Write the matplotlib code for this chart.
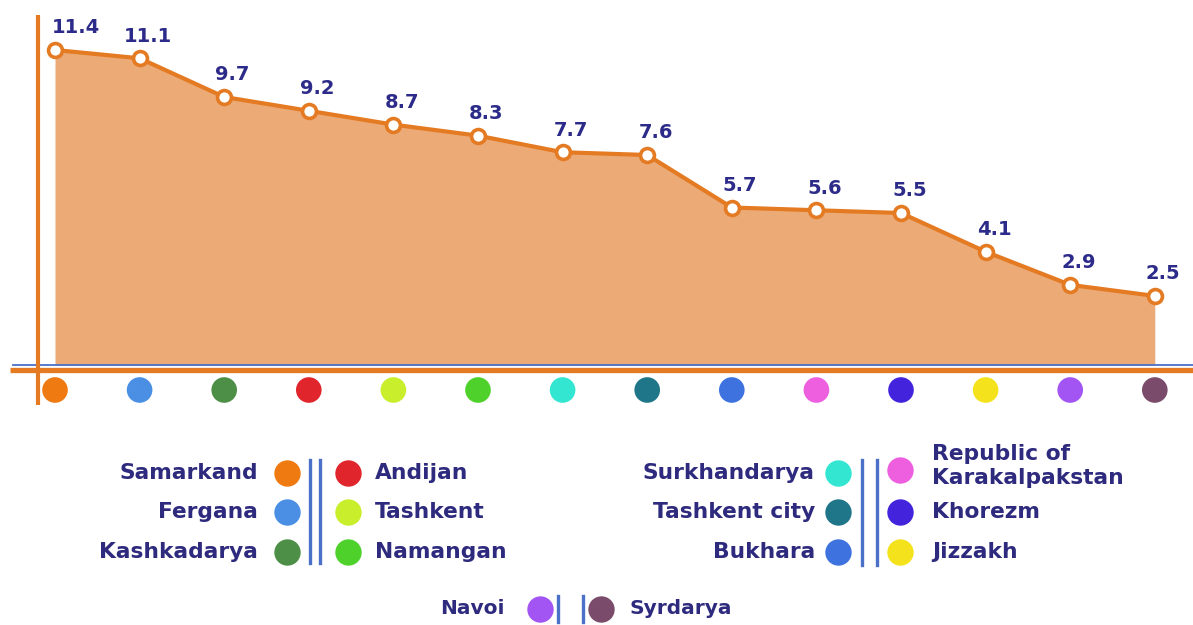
import matplotlib
matplotlib.use("Agg")
import matplotlib.pyplot as plt
from matplotlib.lines import Line2D

plt.rcParams['font.family'] = ['DejaVu Sans']

regions = ["Samarkand", "Fergana", "Kashkadarya", "Andijan", "Tashkent", "Namangan",
           "Surkhandarya", "Tashkent city", "Bukhara", "Republic of\nKarakalpakstan",
           "Khorezm", "Jizzakh", "Navoi", "Syrdarya"]
values = [11.4, 11.1, 9.7, 9.2, 8.7, 8.3, 7.7, 7.6, 5.7, 5.6, 5.5, 4.1, 2.9, 2.5]
dot_colors = ["#F07A12", "#4A8FE3", "#4E8F47", "#E0262C", "#C9EE2C", "#4FD12C",
              "#33E6D2", "#1F7689", "#3D72DF", "#EE5FE0", "#4423DC", "#F4E31C",
              "#A255F2", "#7A4B6B"]

W, H = 1193, 625
fig = plt.figure(figsize=(W / 100, H / 100), dpi=100)
ax = fig.add_axes([0, 0, 1, 1])
ax.axis('off')

# pixel mapping for the plot region
x0_px, dx_px = 55, 84.6
base_px, top_px = 365, 50
ppu = (base_px - top_px) / max(values)
ax.set_xlim(-x0_px / dx_px, (W - x0_px) / dx_px)
ax.set_ylim(-(H - base_px) / ppu, base_px / ppu)

TXT = "#2E2A7E"
VAL = "#2D2B8A"
ORANGE = "#E47A22"
FILL = "#EBAA76"
BLUE = "#4A70C8"

xs = list(range(len(values)))
ax.fill_between(xs, values, 0, color=FILL, zorder=1, linewidth=0)
ax.plot(xs, values, color=ORANGE, lw=3, zorder=3, marker='o', markersize=10,
        markerfacecolor='white', markeredgecolor=ORANGE, markeredgewidth=2.6)

for i, v in enumerate(values):
    dx = 15 if i == 0 else 6
    ax.annotate(f"{v}", (i, v), xytext=(dx, 12), textcoords='offset points',
                ha='center', va='baseline', fontsize=14, fontweight='bold', color=VAL,
                zorder=5)

# axes lines
xl = ax.get_xlim()
ax.plot([(10 - x0_px) / dx_px, xl[1]], [-4.5 / ppu, -4.5 / ppu], color=ORANGE, lw=3.8,
        zorder=2, solid_capstyle='butt')
ax.plot([(13 - x0_px) / dx_px, xl[1]], [0, 0], color=BLUE, lw=1.3, zorder=2.5)
ax.plot([(38 - x0_px) / dx_px] * 2, [(base_px - 15) / ppu, -40 / ppu], color=ORANGE,
        lw=3, zorder=2.6, solid_capstyle='butt')

# dots under axis
ax.scatter(xs, [-25 / ppu] * len(xs), s=340, c=dot_colors, zorder=4, linewidths=0)

# legend
def fx(px):
    return px / W

def fy(py):
    return 1 - py / H

FS = 15.7

def legend_item(label, color, text_px, dot_px, y_px, side, dot_y_px=None, fs=FS):
    if dot_y_px is None:
        dot_y_px = y_px
    fig.add_artist(Line2D([fx(dot_px)], [fy(dot_y_px)], marker='o', markersize=19,
                          color=color, markeredgewidth=0, linestyle='none'))
    fig.text(fx(text_px), fy(y_px), label, ha=side, va='center', fontsize=fs,
             fontweight='bold', color=TXT, linespacing=1.3)

def vline(x_px, y1, y2, lw=2.4):
    fig.add_artist(Line2D([fx(x_px)] * 2, [fy(y1), fy(y2)], color=BLUE, lw=lw))

rows = [473, 512, 552]
# left group
for k, idx in enumerate([0, 1, 2]):
    legend_item(regions[idx], dot_colors[idx], 258, 287, rows[k], 'right')
for k, idx in enumerate([3, 4, 5]):
    legend_item(regions[idx], dot_colors[idx], 375, 348, rows[k], 'left')
vline(310, 460, 563)
vline(320, 460, 563)

# right group
for k, idx in enumerate([6, 7, 8]):
    legend_item(regions[idx], dot_colors[idx], 815, 838, rows[k], 'right')
legend_item(regions[9], dot_colors[9], 932, 900, 466, 'left', dot_y_px=470)
legend_item(regions[10], dot_colors[10], 932, 900, 512, 'left')
legend_item(regions[11], dot_colors[11], 932, 900, 552, 'left')
vline(862, 460, 565)
vline(877, 460, 565)

# bottom row
legend_item(regions[12], dot_colors[12], 505, 540, 609, 'right', fs=14.5)
legend_item(regions[13], dot_colors[13], 630, 601, 609, 'left', fs=14.5)
vline(558, 596, 622)
vline(583, 596, 622)

fig.savefig("out.png", dpi=100)
